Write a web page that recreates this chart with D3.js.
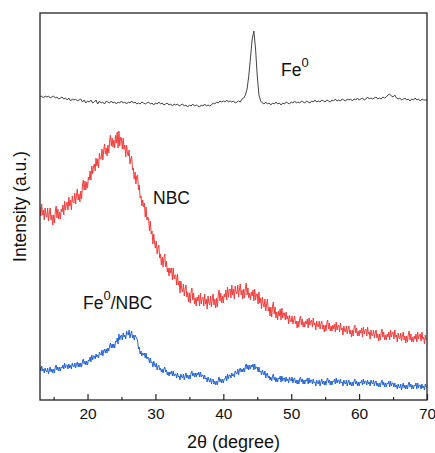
<!DOCTYPE html>
<html>
<head>
<meta charset="utf-8">
<script src="https://cdn.jsdelivr.net/npm/d3@7"></script>
<style>
  body { margin: 0; background: #fff; }
  svg { display: block; font-family: "Liberation Sans", Arial, sans-serif; }
</style>
</head>
<body>
<svg id="chart" width="435" height="453"></svg>
<script>
// all patterns start at 2theta = 13 degrees
const thetaStart = 13;

// Fe0 pattern, 0.25 degree steps (4 values per degree)
const fe0 = [
  303,304,302,304, 303,304,302,303, 304,302,303,301, 302,303,301,302,
  300,302,299,301, 300,301,299,300, 301,298,300,297, 299,298,300,297,
  298,300,296,299, 297,298,296,299, 298,297,299,297, 298,296,298,297,
  299,297,298,296, 298,297,299,297, 298,296,297,296, 298,297,296,297,
  298,296,297,295, 297,296,298,296, 297,295,296,297, 295,296,294,296,
  295,296,294,295, 296,294,295,293, 295,294,296,294, 295,294,293,295,
  294,296,294,295, 294,295,297,296, 298,297,299,298, 299,298,300,298,
  299,298,299,297, 298,299,298,301, 302,305,311,324, 342,361,369,351,
  324,305,299,297, 296,298,296,297, 295,297,296,298, 296,297,295,297,
  296,298,297,296, 298,297,299,297, 298,297,299,298, 297,299,298,297,
  299,298,300,298, 299,298,300,299, 298,300,299,298, 300,299,301,299,
  300,299,301,300, 299,301,300,301, 299,301,300,302, 300,301,302,300,
  301,303,301,302, 301,302,303,301, 302,301,303,302, 303,305,306,304,
  303,305,302,301, 302,300,301,302, 300,301,299,301, 300,302,300,301,
  299,301,300,300, 300
];

// NBC pattern, 0.125 degree steps (8 values per degree)
const nbc = [
  193,184,196,185,190,180,192,185, 183,192,179,187,192,180,185,175,
  185,177,188,194,182,191,181,188, 181,191,188,195,185,199,190,196,
  198,190,203,194,200,190,204,198, 197,207,196,205,211,200,206,198,
  209,201,214,220,210,219,210,218, 212,223,220,229,220,234,226,233,
  236,229,242,234,241,232,247,241, 241,251,240,249,256,246,252,244,
  255,247,259,265,254,262,253,260, 252,265,257,268,252,269,254,263,
  261,251,262,251,255,243,255,247, 244,250,236,241,244,230,232,221,
  228,216,224,225,210,215,202,204, 194,200,193,197,183,193,180,183,
  181,169,179,166,169,156,166,157, 152,159,146,152,155,142,146,135,
  143,133,142,146,133,139,128,132, 124,132,127,132,120,132,121,125,
  125,115,126,115,119,107,119,111, 108,116,104,111,115,103,108,98,
  107,97,108,112,100,107,96,102, 94,103,99,105,94,107,96,102,
  103,94,106,96,101,91,104,97, 95,104,93,101,106,95,101,92,
  102,93,105,110,99,107,97,104, 97,106,103,110,100,113,103,110,
  111,102,115,105,111,101,114,108, 106,115,103,111,116,105,110,101,
  111,102,112,117,105,112,102,107, 100,108,104,110,99,111,100,106,
  106,96,108,97,102,91,103,96, 93,101,89,96,101,89,93,84,
  93,83,94,98,86,93,82,88, 80,89,84,91,80,92,82,87,
  87,80,88,81,84,76,85,79, 78,84,76,80,84,76,79,72,
  79,73,81,84,75,81,73,78, 73,79,76,81,72,82,75,79,
  80,73,82,75,77,70,79,74, 73,79,71,76,79,71,75,68,
  75,69,77,80,71,77,69,74, 69,75,71,76,68,78,70,74,
  75,68,77,70,72,65,74,69, 68,74,66,71,74,66,70,63,
  70,64,72,75,67,72,64,69, 64,70,67,72,63,73,66,70,
  71,64,73,66,68,61,70,65, 64,70,62,67,70,62,66,59,
  66,60,68,71,63,68,60,65, 60,66,63,68,60,70,63,67,
  68,61,70,63,65,58,67,62, 61,67,59,64,68,60,64,57,
  64,58,66,69,60,66,58,63, 58,64,61,66,58,68,61,65,
  66,59,68,61,63,56,65,60, 61
];

// Fe0/NBC pattern, 0.125 degree steps (8 values per degree)
const feNbc = [
  33,29,34,29,31,27,32,29, 28,32,26,30,33,28,31,27,
  31,27,33,35,30,33,29,33, 29,33,32,35,31,37,32,35,
  35,31,36,32,35,31,37,34, 33,37,32,36,38,33,37,33,
  37,33,39,41,36,39,35,39, 35,40,39,43,38,45,40,44,
  44,41,46,43,45,42,48,46, 45,50,44,49,51,47,51,47,
  52,49,54,57,52,56,52,56, 52,59,58,62,56,66,60,64,
  65,60,67,63,65,61,69,66, 65,70,62,66,69,62,65,60,
  65,63,62,59,51,53,46,49, 44,47,45,47,42,47,41,43,
  42,37,42,37,38,33,39,35, 33,37,30,34,35,30,32,28,
  31,27,31,33,28,30,25,28, 24,28,26,29,24,29,24,26,
  26,22,27,23,24,20,26,23, 22,26,20,24,27,22,25,21,
  25,21,27,29,24,27,23,27, 23,27,25,28,23,28,23,25,
  25,21,25,21,22,18,23,20, 18,22,16,20,21,16,19,15,
  19,15,20,23,18,21,17,21, 17,21,21,24,19,26,21,25,
  25,22,27,24,26,23,29,27, 26,31,25,30,32,28,31,28,
  32,28,34,36,31,35,30,35, 31,35,33,36,30,36,31,33,
  33,28,33,28,29,25,30,27, 25,29,22,26,27,22,24,20,
  23,19,24,26,20,23,18,22, 18,22,21,24,18,24,19,22,
  22,18,23,19,21,17,23,20, 19,23,17,21,22,17,20,16,
  20,16,21,23,18,21,16,20, 16,20,19,22,16,22,17,20,
  20,16,21,17,18,14,20,17, 16,20,14,18,21,16,19,15,
  19,15,20,22,17,20,15,19, 15,19,18,21,16,22,17,20,
  20,16,21,17,18,14,20,17, 16,20,14,18,20,15,18,14,
  18,14,19,21,16,19,14,18, 14,18,17,20,15,21,16,19,
  19,15,20,16,18,14,20,17, 16,20,14,18,19,14,17,13,
  17,13,18,20,15,18,13,17, 13,17,16,19,13,19,14,17,
  17,13,17,13,15,11,16,13, 12,16,10,14,17,12,15,11,
  15,11,16,18,13,16,11,15, 11,15,14,17,11,17,12,15,
  15,11,16,12,14,10,16,13, 13
];

const xTicks = [20, 30, 40, 50, 60, 70];
const xMinorTicks = [15, 25, 35, 45, 55, 65];

const series = [
  { name: "Fe0", values: fe0, step: 0.25, color: "#444444" },
  { name: "NBC", values: nbc, step: 0.125, color: "#f23b3b" },
  { name: "Fe0/NBC", values: feNbc, step: 0.125, color: "#1f62d8" }
];

const margin = { left: 40, top: 13, right: 8, bottom: 53 };
const W = 435, H = 453;
const svg = d3.select("#chart");

const x = d3.scaleLinear().domain([13, 70]).range([margin.left, W - margin.right]);
const y = d3.scaleLinear().domain([0, 387]).range([H - margin.bottom, margin.top]);

svg.append("clipPath").attr("id", "plotclip")
  .append("rect")
  .attr("x", x(13)).attr("y", y(387))
  .attr("width", x(70) - x(13)).attr("height", y(0) - y(387));

const plot = svg.append("g").attr("clip-path", "url(#plotclip)");
series.forEach(s => {
  const line = d3.line()
    .x((d, i) => x(thetaStart + i * s.step))
    .y(d => y(d));
  plot.append("path")
    .datum(s.values)
    .attr("d", line)
    .attr("fill", "none")
    .attr("stroke", s.color)
    .attr("stroke-width", 1)
    .attr("stroke-linejoin", "round");
});

// frame
svg.append("rect")
  .attr("x", x(13)).attr("y", y(387))
  .attr("width", x(70) - x(13)).attr("height", y(0) - y(387))
  .attr("fill", "none").attr("stroke", "#222").attr("stroke-width", 1.3);

// bottom axis, ticks pointing inward
const xAxis = svg.append("g").attr("transform", `translate(0,${y(0)})`)
  .call(d3.axisBottom(x).tickValues(xTicks).tickSizeInner(-6).tickSizeOuter(0).tickPadding(8));
xAxis.select(".domain").remove();
xAxis.selectAll(".tick line").attr("stroke", "#222").attr("stroke-width", 1.2);
xAxis.selectAll(".tick text")
  .attr("font-size", 15.5).attr("fill", "#111")
  .attr("font-family", "Liberation Sans, Arial, sans-serif");

const minor = svg.append("g").attr("transform", `translate(0,${y(0)})`)
  .call(d3.axisBottom(x).tickValues(xMinorTicks).tickSizeInner(-3).tickSizeOuter(0).tickFormat(""));
minor.select(".domain").remove();
minor.selectAll(".tick line").attr("stroke", "#222").attr("stroke-width", 1.2);

// axis titles
svg.append("text")
  .attr("x", (x(13) + x(70)) / 2).attr("y", 448)
  .attr("text-anchor", "middle").attr("font-size", 18).attr("fill", "#111")
  .text("2θ (degree)");

svg.append("text")
  .attr("transform", `translate(26,${(y(0) + y(387)) / 2}) rotate(-90)`)
  .attr("text-anchor", "middle").attr("font-size", 17.5).attr("fill", "#111")
  .text("Intensity (a.u.)");

// curve labels
function label(px, py, parts) {
  const t = svg.append("text").attr("x", px).attr("y", py)
    .attr("font-size", 17.5).attr("fill", "#111");
  parts.forEach(p => {
    const ts = t.append("tspan").text(p.text);
    if (p.sup) ts.attr("font-size", 13).attr("dy", -9);
    if (p.down) ts.attr("dy", 9);
  });
}
label(281, 76, [{ text: "Fe" }, { text: "0", sup: true }]);
label(153, 204, [{ text: "NBC" }]);
label(83, 309, [{ text: "Fe" }, { text: "0", sup: true }, { text: "/NBC", down: true }]);
</script>
</body>
</html>
